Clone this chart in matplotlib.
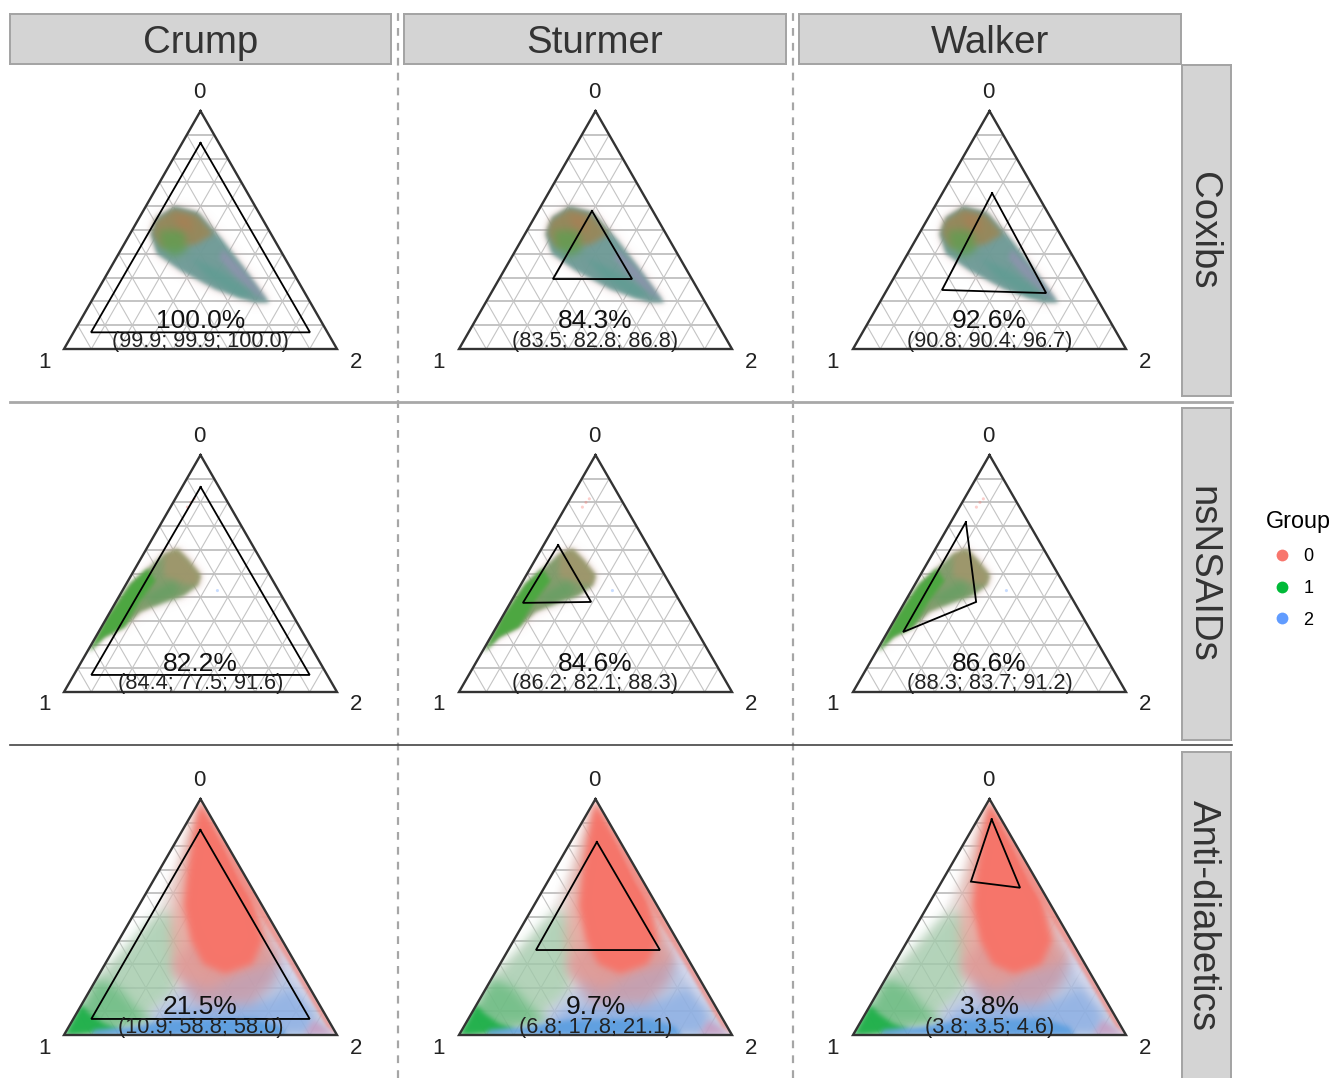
import numpy as np
import matplotlib
matplotlib.use("Agg")
import matplotlib.pyplot as plt
from matplotlib.lines import Line2D
from matplotlib.path import Path
from matplotlib.patches import PathPatch

plt.rcParams['font.family'] = ['Liberation Sans', 'DejaVu Sans']

# ---------------- data ----------------
columns = ["Crump", "Sturmer", "Walker"]
rows = ["Coxibs", "nsNSAIDs", "Anti-diabetics"]
corner_labels = ["0", "1", "2"]
groups = ["0", "1", "2"]
group_colors = ["#F8766D", "#00BA38", "#619CFF"]

overlap_pct = [["100.0%", "84.3%", "92.6%"],
               ["82.2%", "84.6%", "86.6%"],
               ["21.5%", "9.7%", "3.8%"]]
overlap_by_group = [["(99.9; 99.9; 100.0)", "(83.5; 82.8; 86.8)", "(90.8; 90.4; 96.7)"],
                    ["(84.4; 77.5; 91.6)", "(86.2; 82.1; 88.3)", "(88.3; 83.7; 91.2)"],
                    ["(10.9; 58.8; 58.0)", "(6.8; 17.8; 21.1)", "(3.8; 3.5; 4.6)"]]

# bounding triangles, as (share 0, share 1, share 2)
region_crump_cox = [(.866, .067, .067), (.07, .866, .064), (.07, .064, .866)]
region_sturmer_cox = [(.58, .223, .197), (.294, .509, .197), (.294, .219, .487)]
region_walker_cox = [(.655, .163, .182), (.248, .55, .202), (.235, .175, .59)]
region_crump_ns = [(.865, .067, .068), (.072, .864, .064), (.072, .064, .864)]
region_sturmer_ns = [(.62, .327, .053), (.376, .578, .046), (.38, .326, .294)]
region_walker_ns = [(.717, .228, .055), (.38, .359, .261), (.253, .69, .057)]
region_crump_ad = [(.869, .066, .065), (.068, .866, .066), (.068, .066, .866)]
region_sturmer_ad = [(.818, .086, .096), (.36, .538, .102), (.36, .084, .556)]
region_walker_ad = [(.914, .035, .051), (.65, .243, .107), (.624, .076, .30)]
regions = [[region_crump_cox, region_sturmer_cox, region_walker_cox],
           [region_crump_ns, region_sturmer_ns, region_walker_ns],
           [region_crump_ad, region_sturmer_ad, region_walker_ad]]

# point-cloud outlines, as (share 0, share 2)
cox_outline = [(.60, .107), (.575, .203), (.46, .35), (.345, .485), (.195, .655), (.195, .60),
               (.25, .43), (.33, .26), (.40, .14), (.484, .075), (.555, .065)]
cox_upper = [(.541, .065), (.59, .107), (.566, .205), (.484, .307), (.442, .267), (.428, .213),
             (.428, .14), (.484, .081)]
cox_green = [(.499, .098), (.499, .189), (.414, .244), (.386, .209), (.428, .14)]
cox_orange = [(.569, .118), (.555, .185), (.484, .234), (.513, .158)]
cox_teal = [(.386, .27), (.329, .408), (.23, .58), (.216, .538), (.301, .374)]
cox_purple = [(.42, .37), (.343, .475), (.202, .643), (.23, .59), (.31, .47), (.38, .38)]

ns_outline = [(.169, .007), (.316, .001), (.456, .016), (.52, .046), (.583, .075), (.604, .114),
              (.555, .18), (.492, .255), (.449, .265), (.407, .237), (.379, .177), (.337, .112),
              (.274, .083), (.232, .031)]
ns_orange = [(.583, .075), (.604, .114), (.555, .18), (.492, .255), (.449, .265), (.456, .212),
             (.485, .124)]
ns_tail = [(.169, .007), (.316, .001), (.456, .016), (.52, .046), (.47, .101), (.386, .088),
           (.274, .083), (.232, .031)]
ns_mid = [(.4, .081), (.47, .168), (.414, .221), (.372, .144)]
ns_stray_share0 = [.80, .78, .815, .428]
ns_stray_share2 = [.065, .062, .07, .348]
ns_stray_group = [0, 0, 0, 2]

ad_sparse = [(.955, .01), (.842, .03), (.686, .059), (.502, .078), (.361, .04), (.248, 0), (.12, 0),
             (0, 0), (0, 1), (1, 0)]
ad_green_sparse = [(.502, .078), (.53, .131), (.375, .24), (.177, .314), (.064, .248), (.064, .017),
                   (.248, 0), (.361, .04)]
ad_green_mid = [(0, 0), (.24, 0), (.2, .1), (.12, .2), (.06, .3), (.03, .2)]
ad_blue_sparse = [(.431, .528), (.318, .682), (.05, .938), (0, 1), (0, .28), (.078, .266), (.177, .314),
                  (.262, .393), (.29, .526)]
ad_blue_mid = [(0, .30), (.10, .33), (.14, .5), (.15, .68), (.20, .73), (.10, .86), (0, .9)]
ad_pale_strip = [(.55, .425), (.47, .51), (.361, .63), (.12, .86), (.092, .869), (.262, .686),
                 (.403, .542), (.50, .44)]
ad_mauve = [(.30, .25), (.24, .30), (.13, .42), (.13, .62), (.22, .66), (.32, .63), (.40, .50), (.40, .27)]
ad_red_sparse = [(.976, 0), (.842, .03), (.601, .102), (.431, .175), (.262, .271), (.191, .429),
                 (.262, .515), (.318, .634), (.502, .493), (.644, .349), (1, 0)]
ad_red_dense = [(.99, .003), (.827, .057), (.686, .108), (.545, .166), (.403, .262), (.30, .36),
                (.26, .46), (.30, .54), (.40, .53), (.50, .46), (.60, .39), (.827, .17)]
ad_red_edge = [(1, 0), (.665, .338), (0, 1), (.035, .945), (.318, .658), (.644, .324)]
ad_blue_dense = [(0, .10), (.021, .10), (.035, .238), (.064, .37), (.071, .66), (.035, .775), (0, .817)]
ad_green_dense = [(0, 0), (.13, 0), (.09, .05), (.05, .12), (.025, .2), (.01, .13), (0, .03)]
ad_corner = [(.064, .883), (0, 1), (0, .878)]

# (outline, colour, opacity, softness in px)
cloud_layers = [
    [(cox_outline, "#d9a3a3", .45, 5), (cox_outline, "#6c9a96", .95, 2), (cox_upper, "#98885a", .95, 3),
     (cox_green, "#5f9e50", .8, 4), (cox_orange, "#b9774e", .45, 4), (cox_teal, "#5c9c92", .7, 3),
     (cox_purple, "#9a8fb8", .6, 2.5)],
    [(ns_outline, "#e0a8a8", .45, 5), (ns_outline, "#7d9a68", .95, 2), (ns_orange, "#b0946c", .6, 3),
     (ns_mid, "#5fa060", .7, 4), (ns_tail, "#4aa83f", .95, 2)],
    [(ad_sparse, "#d9ccc8", .55, 4), (ad_green_sparse, "#86c79a", .55, 6), (ad_blue_sparse, "#9db8e8", .6, 6),
     (ad_green_mid, "#5fb878", .7, 5), (ad_pale_strip, "#dcdcf0", .85, 4), (ad_blue_mid, "#7ea8e4", .6, 5),
     (ad_mauve, "#c79aa8", .85, 6), (ad_red_sparse, "#e89a90", .7, 6), (ad_red_dense, "#f6756a", 1, 3.5),
     (ad_red_edge, "#ef8f88", .8, 1.5), (ad_green_dense, "#1fb04a", .95, 2.5), (ad_blue_dense, "#5d9fe0", .95, 2.5),
     (ad_corner, "#c79ac0", .8, 3)],
]

grid_ticks = [.1, .2, .3, .4, .5, .6, .7, .8, .9]

# ---------------- layout (reference pixels) ----------------
W, H = 1333, 1078
col_box = [(10, 391), (404, 786), (799, 1181)]
col_left = [64, 459, 853]
side = 273
row_box = [(65, 396), (408, 740), (752, 1078)]
row_base = [349, 692, 1035]
row_height = [238, 237, 236]

fig = plt.figure(figsize=(W / 100, H / 100), dpi=100, facecolor="white")


def box(x0, y0, x1, y1):
    return [x0 / W, 1 - y1 / H, (x1 - x0) / W, (y1 - y0) / H]


def xy(share0, share2):
    return share2 + share0 / 2, share0


def soft_filter(color, sigma):
    rgb = matplotlib.colors.to_rgb(color)

    def apply(im, dpi):
        pad = int(3 * sigma) + 1
        k = np.exp(-0.5 * (np.arange(-pad, pad + 1) / sigma) ** 2)
        k /= k.sum()
        a = np.pad(im[:, :, 3], pad)
        a = np.apply_along_axis(lambda v: np.convolve(v, k, mode="same"), 0, a)
        a = np.apply_along_axis(lambda v: np.convolve(v, k, mode="same"), 1, a)
        out = np.zeros(a.shape + (4,))
        out[:, :, 0], out[:, :, 1], out[:, :, 2] = rgb
        out[:, :, 3] = a
        return out, -pad, -pad

    return apply


for r in range(3):
    for c in range(3):
        x0, x1 = col_box[c]
        y0, y1 = row_box[r]
        ax = fig.add_axes(box(x0, y0, x1, y1))
        ax.set_axis_off()
        ax.set_xlim((x0 - col_left[c]) / side, (x1 - col_left[c]) / side)
        ax.set_ylim((row_base[r] - y1) / row_height[r], (row_base[r] - y0) / row_height[r])

        # grid
        for t in grid_ticks:
            ax.plot(*zip(xy(t, 0), xy(t, 1 - t)), color="#b4b4b4", lw=1.1, zorder=1)
            ax.plot(*zip(xy(0, t), xy(1 - t, t)), color="#c4c4c4", lw=0.8, zorder=1)
            ax.plot(*zip(xy(0, t), xy(t, 0)), color="#c4c4c4", lw=0.8, zorder=1)

        # clouds
        for outline, color, alpha, sigma in cloud_layers[r]:
            poly = ax.fill(*zip(*[xy(a, b) for a, b in outline]), color=color, alpha=alpha, lw=0, zorder=2)[0]
            poly.set_agg_filter(soft_filter(color, sigma))
        if r == 1:
            ax.scatter(*xy(np.array(ns_stray_share0), np.array(ns_stray_share2)),
                       c=[group_colors[g] for g in ns_stray_group], s=5, alpha=.35, lw=0, zorder=2)

        # white surround hides what the softening spills over the triangle edge
        xl, yl = ax.get_xlim(), ax.get_ylim()
        tri = [xy(1, 0), xy(0, 1), xy(0, 0), xy(1, 0)]
        rect = [(xl[0], yl[0]), (xl[0], yl[1]), (xl[1], yl[1]), (xl[1], yl[0]), (xl[0], yl[0])]
        verts = rect + tri[::-1]
        codes = [Path.MOVETO] + [Path.LINETO] * 3 + [Path.CLOSEPOLY] + [Path.MOVETO] + [Path.LINETO] * 2 + [Path.CLOSEPOLY]
        ax.add_patch(PathPatch(Path(verts, codes), fc="white", ec="none", zorder=3))

        # outer triangle
        ax.plot(*zip(*tri), color="#333333", lw=1.7, zorder=4, solid_joinstyle="miter")
        # bounding region
        reg = [xy(p[0], p[2]) for p in regions[r][c]]
        reg.append(reg[0])
        ax.plot(*zip(*reg), color="black", lw=1.3, zorder=5, solid_joinstyle="miter")

        # labels
        ax.text(.5 - 1 / side, 1 + 18 / row_height[r], corner_labels[0], ha="center", va="center", fontsize=16, color="#222222", zorder=6)
        ax.text(-20 / side, -13 / row_height[r], corner_labels[1], ha="center", va="center", fontsize=16, color="#222222", zorder=6)
        ax.text(1 + 19 / side, -13 / row_height[r], corner_labels[2], ha="center", va="center", fontsize=16, color="#222222", zorder=6)
        ax.text(.5, 28 / row_height[r], overlap_pct[r][c], ha="center", va="center", fontsize=19, color="#111111", zorder=6)
        ax.text(.5, 8 / row_height[r], overlap_by_group[r][c], ha="center", va="center", fontsize=15.7, color="#222222", zorder=6)

# strips
strip_edge = "#a3a3a3"
strip_fill = "#d4d4d4"
for c, name in enumerate(columns):
    sx = fig.add_axes(box(col_box[c][0], 14, col_box[c][1], 64), facecolor=strip_fill)
    sx.set_xticks([]); sx.set_yticks([])
    for s in sx.spines.values():
        s.set_color(strip_edge); s.set_linewidth(1.4)
    sx.text(.5, .42, name, transform=sx.transAxes, ha="center", va="center", fontsize=27.6, color="#333333")
for r, name in enumerate(rows):
    sx = fig.add_axes(box(1182, row_box[r][0], 1231, row_box[r][1] if r < 2 else 1079), facecolor=strip_fill)
    sx.set_xticks([]); sx.set_yticks([])
    for s in sx.spines.values():
        s.set_color(strip_edge); s.set_linewidth(1.4)
    sx.text(.42, .5, name, transform=sx.transAxes, ha="center", va="center", rotation=-90, fontsize=27.6, color="#333333")

# panel separators
for px in (398, 793):
    fig.add_artist(Line2D([px / W, px / W], [0, 1 - 12 / H], color="#a6a6a6", lw=1.6, dashes=(3.5, 3.2)))
fig.add_artist(Line2D([10 / W, 1232 / W], [1 - 402 / H, 1 - 402 / H], color="#a8a8a8", lw=2.0))
fig.add_artist(Line2D([10 / W, 1232 / W], [1 - 745 / H, 1 - 745 / H], color="#444444", lw=1.2))

# legend
handles = [Line2D([], [], ls="", marker="o", ms=8.5, mfc=col, mec="none") for col in group_colors]
fig.legend(handles, groups, title="Group", loc="upper left", bbox_to_anchor=(1259 / W, 1 - 503 / H),
           frameon=False, fontsize=13, title_fontsize=16.8, alignment="left", labelspacing=0.82,
           handletextpad=0.25, borderaxespad=0, borderpad=0.4, handlelength=1.8)

fig.savefig("out.png", dpi=100, facecolor="white")
